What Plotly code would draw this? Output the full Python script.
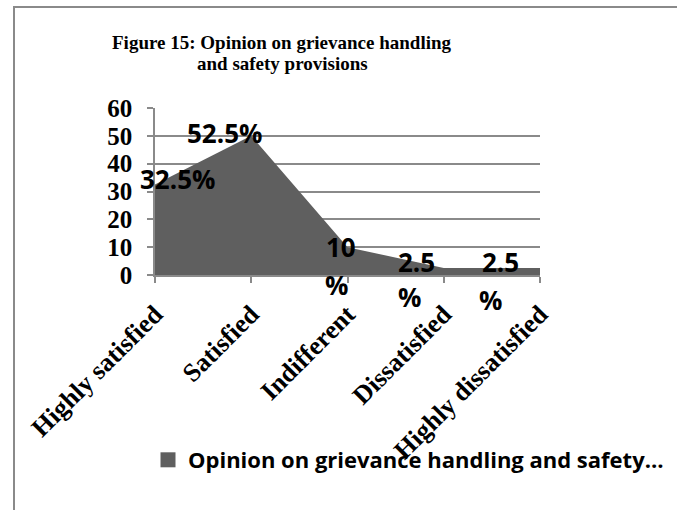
import plotly.graph_objects as go

categories = ["Highly satisfied", "Satisfied", "Indifferent", "Dissatisfied", "Highly dissatisfied"]
values = [32.5, 50, 10, 2.5, 2.5]
label_top = ["32.5%", "52.5%", "10", "2.5", "2.5"]
label_bottom = ["", "", "%", "%", "%"]
series_name = "Opinion on grievance handling and safety…"
title_lines = ["Figure 15: Opinion on grievance handling", "and safety provisions"]
y_ticks = [0, 10, 20, 30, 40, 50, 60]

# layout geometry (pixels)
W, H = 684, 510
L, R, T, B = 155, 540, 108, 275
AREA = "#5f5f5f"
GRID = "#8a8a8a"

fig = go.Figure()
fig.add_trace(go.Scatter(
    x=list(range(len(categories))), y=values, mode="none", fill="tozeroy",
    fillcolor=AREA, name=series_name, hoverinfo="skip", showlegend=False,
))
# legend entry (square swatch)
fig.add_trace(go.Scatter(
    x=[None], y=[None], mode="markers", name="<b>%s</b>" % series_name,
    marker=dict(symbol="square", size=15, color=AREA), showlegend=True,
))

sans = "'Open Sans', Lato, sans-serif"
serif = "'Liberation Serif', 'Times New Roman', serif"
lbl_font = dict(family=sans, size=26, color="#000000")
top_shift = [(22, 6), (-27, 3), (-7, 0), (-27, 6), (-40, 6)]
bot_shift = [(0, 0), (0, 0), (-11, -38), (-34, -29), (-50, -32)]
for i, v in enumerate(values):
    dx, dy = top_shift[i]
    fig.add_annotation(x=i, y=v, text="<b>%s</b>" % label_top[i], showarrow=False,
                       xshift=dx, yshift=dy, font=lbl_font)
    if label_bottom[i]:
        dx, dy = bot_shift[i]
        fig.add_annotation(x=i, y=v, text="<b>%s</b>" % label_bottom[i], showarrow=False,
                           xshift=dx, yshift=dy, font=lbl_font)

def px(x):
    return (x - L) / (R - L)

def py(y):
    return (B - y) / (B - T)

# title (two lines, tight spacing)
for line, yc in zip(title_lines, [42, 63]):
    fig.add_annotation(xref="paper", yref="paper", x=px(282), y=py(yc), text="<b>%s</b>" % line,
                       showarrow=False, xanchor="center", yanchor="middle",
                       font=dict(family=serif, size=19, color="#000000"))

# outer chart border (top and left visible)
fig.add_shape(type="line", xref="paper", yref="paper", x0=px(13), x1=px(677), y0=py(7), y1=py(7),
              line=dict(color=GRID, width=2))
fig.add_shape(type="line", xref="paper", yref="paper", x0=px(14), x1=px(14), y0=py(6), y1=py(512),
              line=dict(color=GRID, width=2))

fig.update_layout(
    width=W, height=H,
    margin=dict(l=L, r=W - R, t=T, b=H - B, autoexpand=False),
    paper_bgcolor="white", plot_bgcolor="white",
    xaxis=dict(range=[0, len(categories) - 1], tickvals=list(range(len(categories))),
               ticktext=["<b>%s</b>" % c for c in categories], tickangle=-45,
               tickfont=dict(family=serif, size=26, color="#000000"),
               showgrid=False, zeroline=False, showline=True, linecolor=GRID, linewidth=1.5,
               ticks="outside", ticklen=6, tickcolor=GRID, tickwidth=1.5,
               ticklabelstandoff=6, automargin=False, fixedrange=True),
    yaxis=dict(range=[0, 60], tickvals=y_ticks, ticktext=["<b>%d</b>" % t for t in y_ticks],
               tickfont=dict(family=serif, size=25, color="#000000"),
               showgrid=True, gridcolor=GRID, gridwidth=1.5, zeroline=False,
               showline=True, linecolor=GRID, linewidth=1.5,
               ticks="outside", ticklen=6, tickcolor=GRID, tickwidth=1.5,
               ticklabelstandoff=10, automargin=False, fixedrange=True),
    showlegend=True,
    legend=dict(orientation="h", x=px(148), y=py(439), xanchor="left", yanchor="top",
                font=dict(family=sans, size=22, color="#000000"),
                bgcolor="rgba(0,0,0,0)"),
)

fig.write_html("out.html")
